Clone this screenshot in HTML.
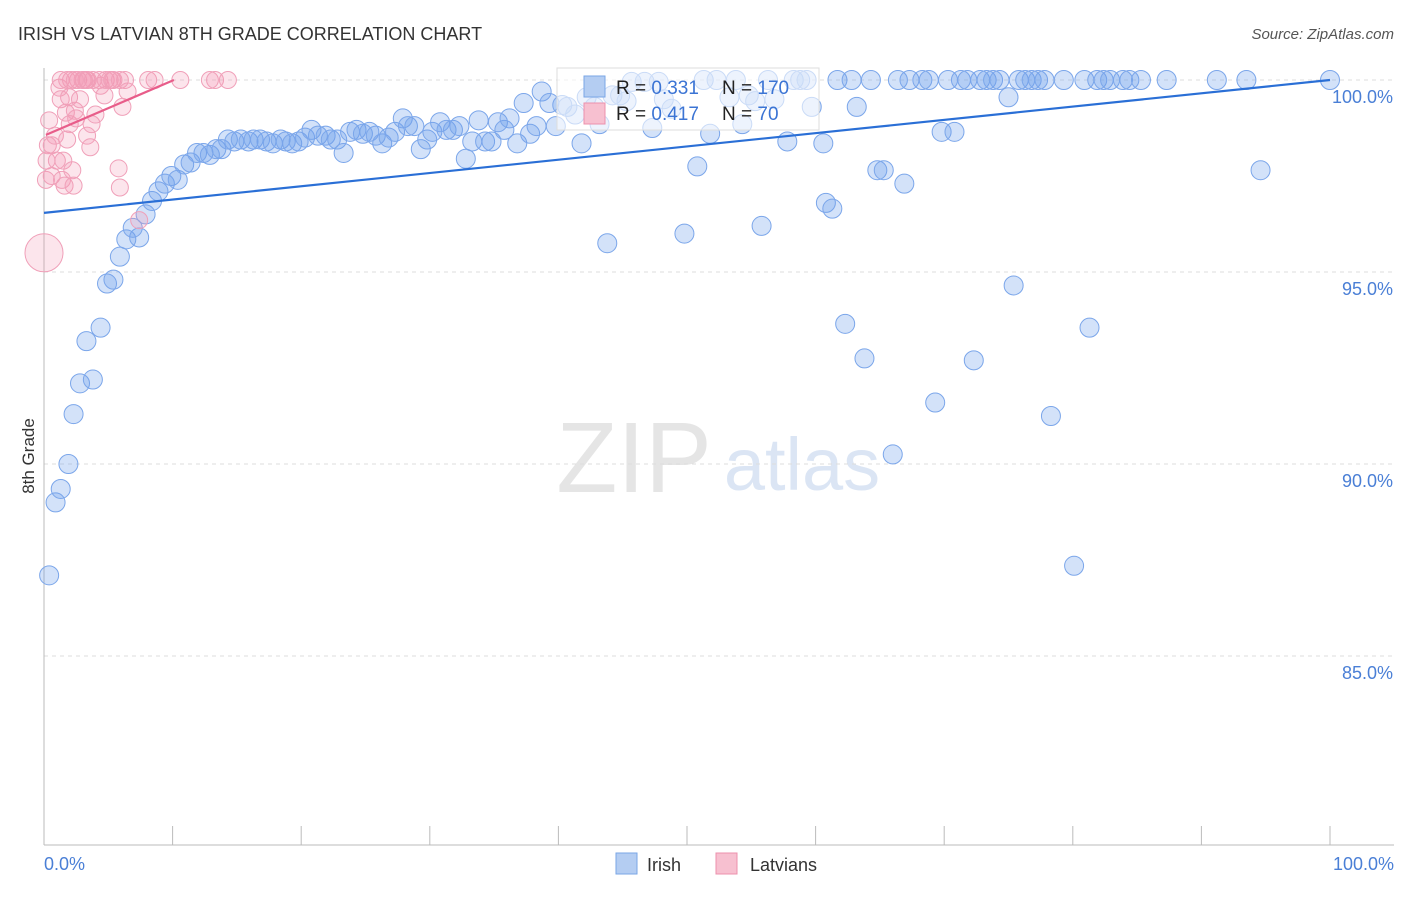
<!DOCTYPE html>
<html><head><meta charset="utf-8"><style>
body{margin:0;background:#fff;font-family:"Liberation Sans",sans-serif}
svg text{font-family:"Liberation Sans",sans-serif}
</style></head><body>
<svg id="chart" width="1406" height="892">
<text x="18" y="40" font-size="18" fill="#333">IRISH VS LATVIAN 8TH GRADE CORRELATION CHART</text>
<text x="1394" y="39" font-size="15" fill="#555" font-style="italic" text-anchor="end">Source: ZipAtlas.com</text>
<g opacity="0.5">
<text x="634" y="492" font-size="100" fill="#ccc" font-family="Liberation Serif" text-anchor="middle">ZIP</text>
<text x="802" y="490" font-size="74" fill="#b9cdea" text-anchor="middle">atlas</text>
</g>
<g id="grid"></g><g id="axes"></g><g id="pts"></g><g id="trend"></g>
<text transform="translate(34,456) rotate(-90)" font-size="17" fill="#333" text-anchor="middle">8th Grade</text>
<text x="44" y="870" font-size="18" fill="#4a7fd6">0.0%</text>
<text x="1394" y="870" font-size="18" fill="#4a7fd6" text-anchor="end">100.0%</text>
<g>
<rect x="557" y="68" width="262" height="62" fill="#fff" fill-opacity="0.6" stroke="#ddd"/>
<rect x="584" y="76" width="21" height="21" fill="#b4cdf2" stroke="#7aa6e6"/>
<rect x="584" y="103" width="21" height="21" fill="#f7c0d0" stroke="#ec90ad"/>
<text x="616" y="94" font-size="19" fill="#222">R = <tspan fill="#3b74d4">0.331</tspan></text>
<text x="722" y="94" font-size="19" fill="#222">N = <tspan fill="#3b74d4">170</tspan></text>
<text x="616" y="120" font-size="19" fill="#222">R = <tspan fill="#3b74d4">0.417</tspan></text>
<text x="722" y="120" font-size="19" fill="#222">N = <tspan fill="#3b74d4"> 70</tspan></text>
</g>
<g>
<rect x="616" y="853" width="21" height="21" fill="#b4cdf2" stroke="#7aa6e6"/>
<text x="647" y="871" font-size="18" fill="#333">Irish</text>
<rect x="716" y="853" width="21" height="21" fill="#f7c0d0" stroke="#ec90ad"/>
<text x="750" y="871" font-size="18" fill="#333">Latvians</text>
</g>
</svg>
<script>
const yTicks=[100,95,90,85];
const yTickLabels=["100.0%","95.0%","90.0%","85.0%"];
const xTicks=[0,10,20,30,40,50,60,70,80,90,100];
const irishX=[0.4,0.9,1.3,1.9,2.3,2.8,3.8,3.3,4.4,4.9,5.4,5.9,6.4,7.4,6.9,7.9,8.4,8.9,9.4,9.9,10.4,10.9,11.4,11.9,12.4,12.9,13.4,13.8,14.3,14.8,15.3,15.9,16.3,16.8,17.3,17.8,18.4,18.8,19.3,19.8,20.3,20.8,21.3,21.9,22.3,22.8,23.3,23.8,24.3,24.8,25.3,25.8,26.3,26.8,27.3,27.9,28.3,28.8,29.3,29.8,30.2,30.8,31.3,31.8,32.3,32.8,33.3,33.8,34.3,34.8,35.3,35.8,36.2,36.8,37.3,37.8,38.3,38.7,39.3,39.8,40.3,40.7,41.3,41.8,42.2,42.8,43.2,43.8,44.2,44.8,45.3,45.7,46.7,47.3,47.8,48.2,48.8,49.8,50.8,51.3,51.8,52.3,53.3,53.8,54.3,54.8,55.3,55.8,56.3,56.8,57.8,58.3,58.8,59.3,59.7,60.6,60.8,61.3,61.7,62.3,62.8,63.2,63.8,64.3,64.8,65.3,66.0,66.4,66.9,67.3,68.3,68.8,69.3,69.8,70.3,70.8,71.3,71.8,72.3,72.8,73.3,73.8,74.3,75.0,75.4,75.8,76.3,76.8,77.3,77.8,78.3,79.3,80.1,80.9,81.3,81.9,82.4,82.9,83.9,84.4,85.3,87.3,91.2,93.5,94.6,100];
const irishY=[87.1,89.0,89.35,90.0,91.3,92.1,92.2,93.2,93.55,94.7,94.8,95.4,95.85,95.9,96.15,96.5,96.85,97.1,97.3,97.5,97.4,97.8,97.85,98.1,98.1,98.05,98.2,98.2,98.45,98.4,98.45,98.4,98.45,98.45,98.4,98.35,98.45,98.4,98.35,98.4,98.5,98.7,98.55,98.55,98.45,98.45,98.1,98.65,98.7,98.6,98.65,98.55,98.35,98.5,98.65,99.0,98.8,98.8,98.2,98.45,98.65,98.9,98.7,98.7,98.8,97.95,98.4,98.95,98.4,98.4,98.9,98.7,99.0,98.35,99.4,98.6,98.8,99.7,99.4,98.8,99.35,99.3,99.1,98.35,99.55,99.3,98.85,95.75,99.6,99.6,99.45,99.95,99.95,98.75,99.95,99.5,99.25,96.0,97.75,100,98.6,100,99.55,100,98.85,99.6,99.45,96.2,100,99.5,98.4,100,100,100,99.3,98.35,96.8,96.65,100,93.65,100,99.3,92.75,100,97.65,97.65,90.25,100,97.3,100,100,100,91.6,98.65,100,98.65,100,100,92.7,100,100,100,100,99.55,94.65,100,100,100,100,100,91.25,100,87.35,100,93.55,100,100,100,100,100,100,100,100,100,97.65,100];
const latX=[0.15,0.2,0.3,0.4,0.6,0.6,0.85,1.0,1.2,1.3,1.4,1.5,1.6,1.7,1.8,1.95,2.0,2.1,2.2,2.3,2.4,2.5,2.65,2.8,3.0,3.1,3.3,3.35,3.4,3.6,3.7,3.8,4.0,4.3,4.4,4.7,4.8,5.1,5.3,5.4,5.8,5.9,5.9,6.1,6.3,6.5,7.4,8.1,8.6,10.6,12.9,13.3,14.3,1.3,1.8,2.4];
const latY=[97.4,97.9,98.3,98.95,98.3,97.5,98.55,97.9,99.8,99.5,97.4,97.9,97.25,99.15,98.45,99.55,98.85,100,97.65,97.25,99.2,99.0,100,99.5,100,100,100,98.55,100,98.25,98.85,100,99.1,100,99.85,99.6,100,100,100,100,97.7,97.2,100,99.3,100,99.7,96.35,100,100,100,100,100,100,100,100,100];
const latBigX=[0];const latBigY=[95.5];
const irishTrendX=[0,100];const irishTrendY=[96.54,100];
const latTrendX=[0.15,10.1];const latTrendY=[98.57,100];
const NS='http://www.w3.org/2000/svg';
const X0=44,X1=1330,YTOP=80,PX_PER=38.4,YBOT=845;
function sx(v){return X0+(X1-X0)*v/100;}
function sy(v){return YTOP+(100-v)*PX_PER;}
function mk(tag,attrs,parent){const e=document.createElementNS(NS,tag);for(const k in attrs)e.setAttribute(k,attrs[k]);document.getElementById(parent).appendChild(e);return e;}
yTicks.forEach((t,i)=>{
 const l=mk('line',{x1:X0,x2:1394,y1:sy(t),y2:sy(t),stroke:'#ddd','stroke-dasharray':'4,4'},'grid');
 
 
 const tx=mk('text',{x:1393,y:sy(t)+23,'font-size':18,fill:'#4a7fd6','text-anchor':'end'},'grid');
 tx.textContent=yTickLabels[i];
 
 
});
const ax=mk('line',{x1:X0,x2:X0,y1:68,y2:YBOT,stroke:'#bbb'},'axes');


const bx=mk('line',{x1:X0,x2:1394,y1:YBOT,y2:YBOT,stroke:'#bbb'},'axes');


xTicks.forEach(t=>{
 const l=mk('line',{x1:sx(t),x2:sx(t),y1:826,y2:YBOT,stroke:'#bbb'},'axes');
 
 
});
irishX.forEach((x,i)=>{
 const c=mk('circle',{cx:sx(x),cy:sy(irishY[i]),r:9.5,fill:'rgba(110,160,235,0.3)',stroke:'#7ba6ea','stroke-width':1},'pts');
 
 
});
latX.forEach((x,i)=>{
 const c=mk('circle',{cx:sx(x),cy:sy(latY[i]),r:8.5,fill:'rgba(245,150,180,0.25)',stroke:'#f0a0b9','stroke-width':1},'pts');
 
 
});
latBigX.forEach((x,i)=>{
 const c=mk('circle',{cx:sx(x),cy:sy(latBigY[i]),r:19,fill:'rgba(245,150,180,0.25)',stroke:'#f0a0b9','stroke-width':1},'pts');
 
 
});
const t1=mk('line',{x1:sx(irishTrendX[0]),y1:sy(irishTrendY[0]),x2:sx(irishTrendX[1]),y2:sy(irishTrendY[1]),stroke:'#2a6fd6','stroke-width':2.2},'trend');


const t2=mk('line',{x1:sx(latTrendX[0]),y1:sy(latTrendY[0]),x2:sx(latTrendX[1]),y2:sy(latTrendY[1]),stroke:'#e85d8a','stroke-width':2.2},'trend');


</script>
</body></html>
